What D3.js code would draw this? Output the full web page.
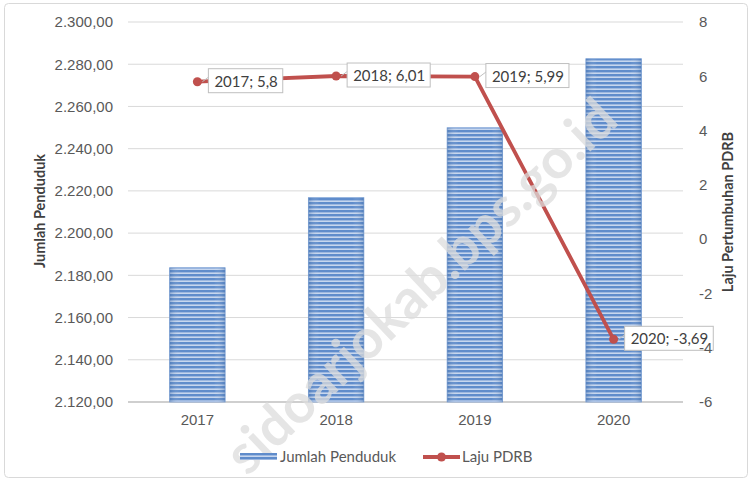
<!DOCTYPE html>
<html>
<head>
<meta charset="utf-8">
<script src="https://cdn.jsdelivr.net/npm/d3@7"></script>
<style>
  body { margin: 0; background: #fff; }
  svg { font-family: Lato, "Open Sans", sans-serif; }
</style>
</head>
<body>
<div id="chart"></div>
<script>
// Data
let years = ["2017", "2018", "2019", "2020"];
let penduduk = [2183.6, 2216.8, 2249.9, 2282.6];
let lajuPdrb = [5.8, 6.01, 5.99, -3.69];
let lajuLabels = ["5,8", "6,01", "5,99", "-3,69"];
let leftTicks = [2120, 2140, 2160, 2180, 2200, 2220, 2240, 2260, 2280, 2300];
let rightTicks = [-6, -4, -2, 0, 2, 4, 6, 8];

let W = 752, H = 481;
let margin = { top: 22, left: 128, bottom: 79, right: 69 };
let width = W - margin.left - margin.right;
let height = H - margin.top - margin.bottom;
let fs = "15px";

let svg = d3.select("#chart").append("svg")
    .attr("width", W)
    .attr("height", H);

// stripe pattern for bars
let defs = svg.append("defs");
let pat = defs.append("pattern")
    .attr("id", "stripes")
    .attr("patternUnits", "userSpaceOnUse")
    .attr("width", 8).attr("height", 4);
pat.append("rect").attr("width", 8).attr("height", 4).attr("fill", "#c6d6ee");
pat.append("rect").attr("y", 0).attr("width", 8).attr("height", 2.4).attr("fill", "#5f8ccb");

let grad = defs.append("linearGradient").attr("id", "shade");
grad.append("stop").attr("offset", "0%").attr("stop-color", "#2f5f9f").attr("stop-opacity", 0.35);
grad.append("stop").attr("offset", "20%").attr("stop-color", "#fff").attr("stop-opacity", 0);
grad.append("stop").attr("offset", "80%").attr("stop-color", "#fff").attr("stop-opacity", 0);
grad.append("stop").attr("offset", "100%").attr("stop-color", "#2f5f9f").attr("stop-opacity", 0.35);

// outer frame
svg.append("rect")
    .attr("x", 4.5).attr("y", 3.5)
    .attr("width", W - 9).attr("height", H - 7)
    .attr("rx", 4)
    .attr("fill", "#fff")
    .attr("stroke", "#d9d9d9");

let g = svg.append("g")
    .attr("transform", `translate(${margin.left}, ${margin.top})`);

/* Scales */
let xScale = d3.scaleBand()
    .domain(years)
    .range([0, width])
    .paddingInner(0.6)
    .paddingOuter(0.3);

let yLeft = d3.scaleLinear()
    .domain([2120, 2300])
    .range([height, 0]);

let yRight = d3.scaleLinear()
    .domain([-6, 8])
    .range([height, 0]);

/* Gridlines */
g.append("g")
    .selectAll("line")
    .data(leftTicks)
    .enter()
    .append("line")
    .attr("x1", 0).attr("x2", width)
    .attr("y1", d => yLeft(d)).attr("y2", d => yLeft(d))
    .attr("stroke", d => d === 2120 ? "#bfbfbf" : "#d9d9d9")
    .attr("stroke-width", d => d === 2120 ? 1.5 : 1);

/* Axes */
let leftAxis = g.append("g")
    .call(d3.axisLeft(yLeft).tickValues(leftTicks).tickSize(0).tickPadding(15)
        .tickFormat(d => d3.format(",.2f")(d).replace(/,/g, "#").replace(".", ",").replace(/#/g, ".")));
leftAxis.select(".domain").remove();
leftAxis.selectAll("text").attr("fill", "#595959").attr("font-size", fs);

let bottomAxis = g.append("g")
    .attr("transform", `translate(0, ${height})`)
    .call(d3.axisBottom(xScale).tickSize(0).tickPadding(12));
bottomAxis.select(".domain").remove();
bottomAxis.selectAll("text").attr("fill", "#595959").attr("font-size", fs);

/* Axis titles */
g.append("text")
    .attr("transform", "rotate(-90)")
    .attr("x", -189)
    .attr("y", -83)
    .attr("text-anchor", "middle")
    .attr("fill", "#404040")
    .attr("font-weight", "bold")
    .attr("font-size", "14.5px")
    .text("Jumlah Penduduk");

g.append("text")
    .attr("transform", "rotate(-90)")
    .attr("x", -190)
    .attr("y", width + 50)
    .attr("text-anchor", "middle")
    .attr("fill", "#404040")
    .attr("font-weight", "bold")
    .attr("font-size", "14.5px")
    .text("Laju Pertumbuhan PDRB");

/* Bars */
let bars = g.append("g");
bars.selectAll(".bar")
    .data(penduduk)
    .enter()
    .append("rect")
    .attr("class", "bar")
    .attr("x", (d, i) => xScale(years[i]))
    .attr("y", d => yLeft(d))
    .attr("width", xScale.bandwidth())
    .attr("height", d => height - yLeft(d))
    .attr("fill", "url(#stripes)")
    .attr("stroke", "#7fa3d6")
    .attr("stroke-width", 0.8);
bars.selectAll(".shade")
    .data(penduduk)
    .enter()
    .append("rect")
    .attr("class", "shade")
    .attr("x", (d, i) => xScale(years[i]))
    .attr("y", d => yLeft(d))
    .attr("width", xScale.bandwidth())
    .attr("height", d => height - yLeft(d))
    .attr("fill", "url(#shade)");

/* Watermark */
svg.append("text")
    .attr("transform", "translate(434, 300) rotate(-43.5)")
    .attr("text-anchor", "middle")
    .attr("fill", "#dcdcdc")
    .attr("fill-opacity", 0.75)
    .attr("font-size", "55px")
    .attr("font-weight", "bold")
    .text("sidoarjokab.bps.go.id");

/* Line */
let cx = (d, i) => xScale(years[i]) + xScale.bandwidth() / 2;
let line = d3.line()
    .x(cx)
    .y(d => yRight(d));

g.append("path")
    .datum(lajuPdrb)
    .attr("d", line)
    .attr("fill", "none")
    .attr("stroke", "#c0504d")
    .attr("stroke-width", 3.8)
    .attr("stroke-linejoin", "round");

g.selectAll(".dot")
    .data(lajuPdrb)
    .enter()
    .append("circle")
    .attr("class", "dot")
    .attr("cx", cx)
    .attr("cy", d => yRight(d))
    .attr("r", 4.5)
    .attr("fill", "#c0504d");

/* Data labels */
let labels = g.selectAll(".lbl")
    .data(lajuPdrb)
    .enter()
    .append("g")
    .attr("class", "lbl")
    .attr("transform", (d, i) => `translate(${cx(d, i) + 11}, ${yRight(d)})`);

labels.append("line")
    .attr("x1", -6).attr("y1", 0).attr("x2", 2).attr("y2", -6)
    .attr("stroke", "#bfbfbf");

labels.append("text")
    .attr("x", 6)
    .attr("y", 5)
    .attr("fill", "#404040")
    .attr("font-size", fs)
    .text((d, i) => `${years[i]}; ${lajuLabels[i]}`);

labels.each(function () {
    let grp = d3.select(this);
    let bb = grp.select("text").node().getBBox();
    grp.insert("rect", "text")
        .attr("x", 0)
        .attr("y", bb.y - 3)
        .attr("width", bb.width + 11)
        .attr("height", bb.height + 6)
        .attr("fill", "#fff")
        .attr("stroke", "#bfbfbf");
});

/* Right axis drawn last: its "-4" sits over the 2020 label, as in the source */
let rightAxis = g.append("g")
    .attr("transform", `translate(${width}, 0)`)
    .call(d3.axisRight(yRight).tickValues(rightTicks).tickSize(0).tickPadding(16));
rightAxis.select(".domain").remove();
rightAxis.selectAll("text").attr("fill", "#595959").attr("font-size", fs)
    .text(d => d < 0 ? "-" + Math.abs(d) : d);

/* Legend */
let legend = svg.append("g").attr("transform", "translate(240, 457)");
legend.append("rect")
    .attr("x", 0).attr("y", -4)
    .attr("width", 37).attr("height", 7)
    .attr("fill", "url(#stripes)");
legend.append("text")
    .attr("x", 40).attr("y", 5)
    .attr("fill", "#595959")
    .attr("font-size", fs)
    .text("Jumlah Penduduk");
legend.append("line")
    .attr("x1", 183).attr("x2", 220)
    .attr("y1", 0).attr("y2", 0)
    .attr("stroke", "#c0504d")
    .attr("stroke-width", 3.8);
legend.append("circle")
    .attr("cx", 201.5).attr("cy", 0).attr("r", 4.5)
    .attr("fill", "#c0504d");
legend.append("text")
    .attr("x", 222).attr("y", 5)
    .attr("fill", "#595959")
    .attr("font-size", fs)
    .text("Laju PDRB");
</script>
</body>
</html>
